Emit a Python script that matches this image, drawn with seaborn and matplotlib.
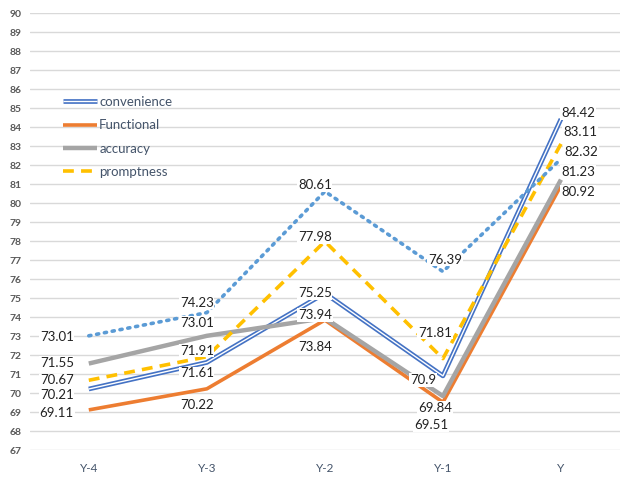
import matplotlib
matplotlib.use("Agg")
import matplotlib.pyplot as plt
import matplotlib.patheffects as pe
import seaborn as sns
import pandas as pd

# Survey scores by year
years = ["Y-4", "Y-3", "Y-2", "Y-1", "Y"]
convenience = [70.21, 71.61, 75.25, 70.9, 84.42]
functional = [69.11, 70.22, 73.84, 69.51, 80.92]
accuracy = [71.55, 73.01, 73.94, 69.84, 81.23]
promptness = [70.67, 71.91, 77.98, 71.81, 83.11]
overall = [73.01, 74.23, 80.61, 76.39, 82.32]
y_ticks = list(range(67, 91))

series_names = ["convenience", "Functional", "accuracy", "promptness", "overall"]
series_values = [convenience, functional, accuracy, promptness, overall]

# label offsets (pixels) per series, per year
label_offsets = {
    "convenience": [(-32, -6), (-10, -11), (-10, 0), (-20, -4), (17, 6)],
    "Functional": [(-32, -3), (-10, -16), (-10, -27), (-12, -23), (17, -6)],
    "accuracy": [(-32, 1), (-10, 13), (-10, 3), (-8, -12), (17, 8)],
    "promptness": [(-32, 0), (-10, 6), (-10, 4), (-8, 26), (19, 12)],
    "overall": [(-32, -1), (-10, 10), (-10, 6), (2, 12), (20, 7)],
}

styles = {
    "convenience": dict(color="white", lw=1.0, ls="-",
                        path_effects=[pe.Stroke(linewidth=3.4, foreground="#4472C4"), pe.Normal()]),
    "Functional": dict(color="#ED7D31", lw=2.6, ls="-"),
    "accuracy": dict(color="#A5A5A5", lw=3.2, ls="-"),
    "promptness": dict(color="#FFC000", lw=2.6, ls=(0, (3, 2))),
    "overall": dict(color="#5B9BD5", lw=2.6, ls=(0, (0.6, 1.6)), dash_capstyle="round"),
}

sns.set_theme(style="white")
plt.rcParams["font.family"] = ["Lato", "DejaVu Sans"]

fig = plt.figure(figsize=(6.2, 4.8), dpi=100)
ax = fig.add_axes([0.048, 0.0625, 0.952, 0.9104])

df = pd.DataFrame({"year": years})
handles = []
for name, vals in zip(series_names, series_values):
    df[name] = vals
    st = dict(styles[name])
    sns.lineplot(data=df, x="year", y=name, ax=ax, sort=False,
                 color=st.pop("color"), linewidth=st.pop("lw"),
                 linestyle=st.pop("ls"), zorder=3, **st)
    line = ax.lines[-1]
    line.set_solid_capstyle("butt")
    if name != "overall":
        line.set_label(name)
        handles.append(line)
    else:
        line.set_label("_nolegend_")
    for i, v in enumerate(vals):
        dx, dy = label_offsets[name][i]
        ax.annotate(f"{v:g}", xy=(i, v), xytext=(dx, dy), textcoords="offset pixels",
                    ha="center", va="center", fontsize=9.5, color="#222222", zorder=4,
                    bbox=dict(boxstyle="square,pad=0.05", fc="white", ec="none"))

ax.set_ylim(67, 90)
ax.set_xlim(-0.5, 4.5)
ax.set_yticks(y_ticks)
ax.set_yticklabels([str(t) for t in y_ticks], fontsize=7.5, color="#595959", fontweight="bold")
ax.tick_params(axis="x", labelsize=8.5, labelcolor="#44546A", pad=9, length=0)
ax.tick_params(axis="y", pad=6, length=0)
ax.yaxis.grid(True, color="#D9D9D9", linewidth=1.0)
ax.set_axisbelow(True)
ax.set_xlabel("")
ax.set_ylabel("")
for sp in ax.spines.values():
    sp.set_visible(False)

ax.legend(handles=handles, labels=[h.get_label() for h in handles],
          loc="upper left", bbox_to_anchor=(0.045, 0.825), frameon=False,
          fontsize=9.5, handlelength=2.6, handletextpad=0.15, labelspacing=0.85,
          borderpad=0, labelcolor="#44546A")

fig.savefig("out.png", dpi=100)
